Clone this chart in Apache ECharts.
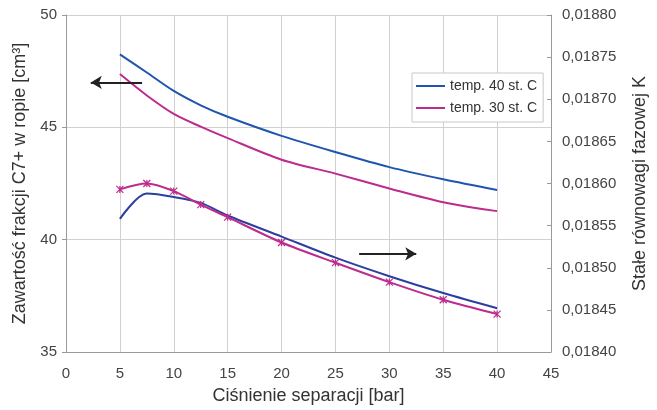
<!DOCTYPE html>
<html><head><meta charset="utf-8">
<script src="https://cdn.jsdelivr.net/npm/echarts@6/dist/echarts.min.js"></script>
<style>html,body{margin:0;padding:0;background:#fff}#c{width:657px;height:410px}</style>
</head><body><div id="c"></div>
<script>
var xCats = [5, 7.5, 10, 12.5, 15, 20, 25, 30, 35, 40];
var c7_40 = [48.25, 47.44, 46.62, 45.98, 45.47, 44.62, 43.90, 43.23, 42.69, 42.21];
var c7_30 = [47.37, 46.42, 45.60, 45.03, 44.52, 43.56, 42.94, 42.28, 41.67, 41.27];
var k_40 = [0.018558, 0.018588, 0.018584, 0.018577, 0.018562, 0.018537, 0.018512, 0.018490, 0.018470, 0.018452];
var k_30 = [0.018593, 0.018600, 0.018591, 0.018575, 0.018560, 0.018530, 0.018506, 0.018483, 0.018462, 0.018445];
var leftTicks = [35, 40, 45, 50];
var rightTicks = [0.0184, 0.0188, 0.00005];
var xTicks = [0, 45, 5];
var arrowLeft = [[7.06, 47.0], [2.3, 47.0]];
var arrowRight = [[27.2, 39.37], [32.5, 39.37]];

function pairs(xs, ys) { return xs.map(function (x, i) { return [x, ys[i]]; }); }

var font = 'Liberation Sans, Arial, sans-serif';
var blue = '#1f55ae', blue2 = '#2c3f9f', pink = '#bd2b8e';
var chart = echarts.init(document.getElementById('c'));
chart.setOption({
  animation: false,
  textStyle: { fontFamily: font },
  grid: { left: 66, right: 102, top: 15, bottom: 50 },
  legend: {
    data: ['temp. 40 st. C', 'temp. 30 st. C'],
    orient: 'vertical', left: 412, top: 73,
    backgroundColor: '#fff', borderColor: '#c8c8c8', borderWidth: 1,
    padding: [6, 6, 7, 4], itemGap: 8,
    icon: 'rect', itemWidth: 29, itemHeight: 2,
    textStyle: { fontSize: 14, color: '#333', fontFamily: font }
  },
  xAxis: {
    type: 'value', min: xTicks[0], max: xTicks[1], interval: xTicks[2],
    name: 'Ciśnienie separacji [bar]', nameLocation: 'middle', nameGap: 35,
    nameTextStyle: { fontSize: 18, color: '#333' },
    axisLine: { onZero: false, lineStyle: { color: '#999' } },
    axisTick: { show: false },
    axisLabel: { fontSize: 15, color: '#444', margin: 14 },
    splitLine: { show: true, lineStyle: { color: '#d0d0d0' } }
  },
  yAxis: [{
    type: 'value', min: leftTicks[0], max: leftTicks[3], interval: 5,
    name: 'Zawartość frakcji C7+ w ropie [cm³]', nameLocation: 'middle', nameGap: 37,
    nameTextStyle: { fontSize: 18, color: '#333' },
    axisLine: { show: true, lineStyle: { color: '#999' } },
    axisTick: { show: true, length: 4, lineStyle: { color: '#999' } },
    axisLabel: { fontSize: 15, color: '#444', margin: 9 },
    splitLine: { show: true, lineStyle: { color: '#d0d0d0' } }
  }, {
    type: 'value', min: rightTicks[0], max: rightTicks[1], interval: rightTicks[2],
    position: 'right',
    name: 'Stałe równowagi fazowej K', nameLocation: 'middle', nameGap: 80,
    nameTextStyle: { fontSize: 18, color: '#333' },
    axisLine: { show: true, lineStyle: { color: '#999' } },
    axisTick: { show: true, length: 4, inside: true, lineStyle: { color: '#999' } },
    axisLabel: { fontSize: 15, color: '#444', margin: 11,
      formatter: function (v) { return v.toFixed(5).replace('.', ','); } },
    splitLine: { show: false }
  }],
  series: [{
    name: 'temp. 40 st. C', type: 'line', yAxisIndex: 0, smooth: 0.3,
    data: pairs(xCats, c7_40), showSymbol: false, symbol: 'none',
    lineStyle: { color: blue, width: 2 }, itemStyle: { color: blue },
    markLine: {
      silent: true, symbol: ['none', 'arrow'], symbolSize: [10, 11],
      label: { show: false },
      lineStyle: { color: '#222', width: 2, type: 'solid' },
      data: [[{ coord: arrowLeft[0] }, { coord: arrowLeft[1] }],
             [{ coord: arrowRight[0] }, { coord: arrowRight[1] }]]
    }
  }, {
    name: 'temp. 30 st. C', type: 'line', yAxisIndex: 0, smooth: 0.3,
    data: pairs(xCats, c7_30), showSymbol: false, symbol: 'none',
    lineStyle: { color: pink, width: 2 }, itemStyle: { color: pink }
  }, {
    name: 'temp. 40 st. C', type: 'line', yAxisIndex: 1, smooth: 0.3,
    data: pairs(xCats, k_40), showSymbol: false, symbol: 'none',
    lineStyle: { color: blue2, width: 2 }, itemStyle: { color: blue2 }
  }, {
    name: 'temp. 30 st. C', type: 'line', yAxisIndex: 1, smooth: 0.3,
    data: pairs(xCats, k_30),
    symbol: 'path://M0,0L10,10M10,0L0,10M5,0L5,10', symbolSize: 7,
    lineStyle: { color: pink, width: 2 },
    itemStyle: { color: 'rgba(0,0,0,0)', borderColor: pink, borderWidth: 1.2 }
  }]
});
</script></body></html>
